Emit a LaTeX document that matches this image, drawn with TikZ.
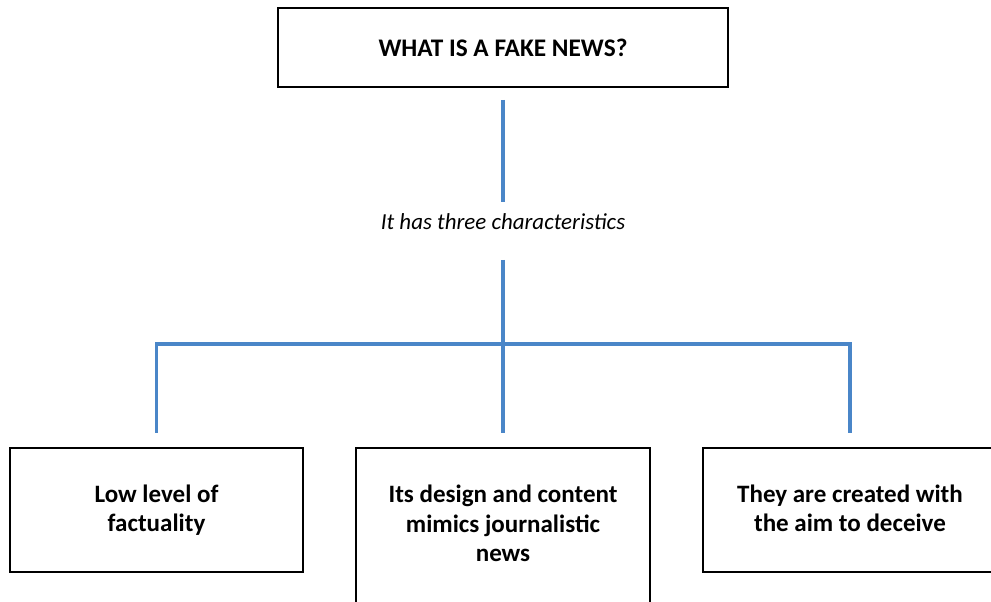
\documentclass[tikz,border=0pt]{standalone}
\usepackage{fontspec}
\setmainfont{Carlito}
\usetikzlibrary{positioning}
\usepackage{xcolor}

\definecolor{linkblue}{HTML}{4A86C8}

\begin{document}
\begin{tikzpicture}[
    thick,
    title box/.style={rectangle, draw=black, line width=1.4pt, minimum width=11.25cm, minimum height=1.975cm, font=\fontsize{18}{21}\selectfont\bfseries},
    card/.style={rectangle, draw=black, line width=1.4pt, minimum width=7.35cm, minimum height=3.1cm},
    card text/.style={align=center, inner sep=0pt, font=\fontsize{17.8}{20.8}\selectfont\bfseries},
    link/.style={draw=linkblue, line width=2.2pt}
]
    \useasboundingbox (0, 0) rectangle (24.775, 15.05);

    % --- Question and its note ---
    \node[title box] (Question) at (12.575, 13.8625) {WHAT IS A FAKE NEWS?};
    \node[inner sep=0pt, anchor=base, font=\fontsize{16.3}{19}\selectfont\itshape] (Traits) at (12.575, 9.32) {It has three characteristics};
    \coordinate (Hub) at (12.575, 6.45);

    % --- The three characteristics ---
    \node[card, minimum width=7.325cm] (Factual) at (3.9125, 2.3) {};
    \node[card, minimum height=4.4cm] (Design) at (12.575, 1.65) {};
    \node[card] (Deceive) at (21.25, 2.3) {};

    \node[card text] (FactualText) at (Factual) {Low level of\\factuality};
    \node[card text, anchor=north] (DesignText) at (12.575, 2.93) {Its design and content\\mimics journalistic\\news};
    \node[card text] (DeceiveText) at ([yshift=0.04cm]Deceive) {They are created with\\the aim to deceive};

    % --- Connectors ---
    \draw[link, shorten <=0.3cm, shorten >=0.27cm] (Question.south) -- (Traits.north);
    \draw[link, shorten <=0.75cm] (Traits.south) -- (Hub);
    \draw[link, shorten >=0.35cm] (Hub) -| (Factual.north);
    \draw[link, shorten >=0.35cm] (Hub) -- (Design.north);
    \draw[link, shorten >=0.35cm] (Hub) -| (Deceive.north);
\end{tikzpicture}
\end{document}
